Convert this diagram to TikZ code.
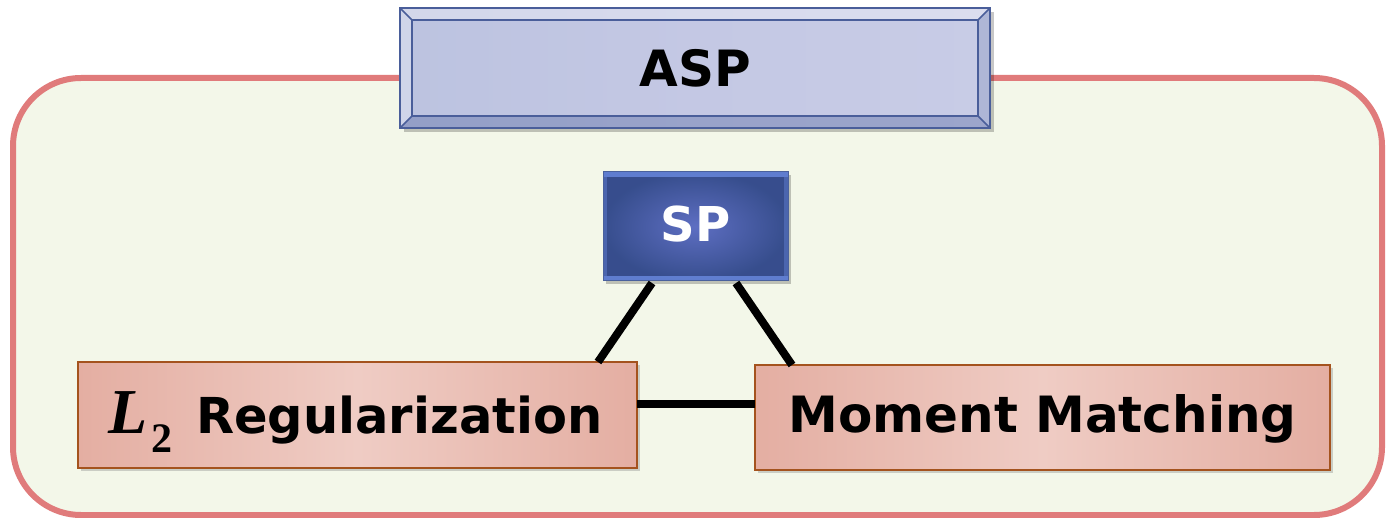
\documentclass[tikz,border=0pt]{standalone}
\usepackage{fontspec}
\setmainfont{DejaVu Sans}
\newfontfamily\serifL{Liberation Serif}
\usetikzlibrary{shadows}
\definecolor{outerline}{HTML}{E07B7B}
\definecolor{outerfill}{HTML}{F3F7E9}
\definecolor{aspL}{HTML}{BCC3E0}
\definecolor{aspM}{HTML}{C4C8E4}
\definecolor{aspR}{HTML}{C8CCE6}
\definecolor{aspline}{HTML}{4A5E9A}
\definecolor{spfill}{HTML}{3E58A0}
\definecolor{spline}{HTML}{6A8AE0}
\definecolor{pinkA}{HTML}{E4AEA2}
\definecolor{pinkB}{HTML}{EFCCC4}
\definecolor{pinkline}{HTML}{A4531E}
\tikzset{
  pinkbox/.style={draw=pinkline, line width=1.5pt, left color=pinkA, right color=pinkA, middle color=pinkB,
    drop shadow={shadow xshift=3pt, shadow yshift=-3pt, opacity=0.35}},
  conn/.style={line width=8pt, black},
  lbl/.style={font=\fontsize{50}{60}\bfseries\selectfont, text=black, inner sep=0pt},
}
\begin{document}
\begin{tikzpicture}[x=1pt,y=-1pt]
\useasboundingbox (0,0) rectangle (1386,518);
% outer frame
\draw[outerline, fill=outerfill, line width=6pt, rounded corners=68pt] (13,78) rectangle (1382,515);
% ASP box
\fill[black, opacity=0.22] (404,12) rectangle (994,132);
\fill[left color=aspL, right color=aspR, middle color=aspM] (400,8) rectangle (990,128);
\fill[white, opacity=0.35] (400,8) -- (990,8) -- (978,20) -- (412,20) -- cycle;
\fill[white, opacity=0.3] (400,8) -- (412,20) -- (412,116) -- (400,128) -- cycle;
\fill[aspline, opacity=0.35] (400,128) -- (412,116) -- (978,116) -- (990,128) -- cycle;
\fill[aspline, opacity=0.2] (990,8) -- (978,20) -- (978,116) -- (990,128) -- cycle;
\draw[aspline, line width=1.5pt] (412,20) rectangle (978,116);
\draw[aspline, line width=1.5pt] (400,8) -- (412,20) (990,8) -- (978,20) (400,128) -- (412,116) (990,128) -- (978,116);
\node[draw=aspline, line width=2pt, minimum width=590pt, minimum height=120pt, lbl] (asp) at (695,68) {ASP};
% SP box
\fill[black, opacity=0.22] (606,175) rectangle (791,284);
\node[inner color=spfill!75!white!85!blue, outer color=spfill!88!black, minimum width=185pt, minimum height=109pt, inner sep=0pt] (spbg) at (695.5,226.5) {};
\fill[spline, opacity=0.8] (603,172) rectangle (788,177);
\fill[spline, opacity=0.8] (603,276) rectangle (788,281);
\fill[spline, opacity=0.4] (603,177) rectangle (607,276);
\fill[spline, opacity=0.4] (784,177) rectangle (788,276);
\draw[spline!70!black, line width=1pt] (603,172) rectangle (788,281);
\node[inner sep=0pt, font=\fontsize{48}{58}\bfseries\selectfont, text=white] (sp) at (695.5,224) {SP};
% lower boxes
\node[pinkbox, minimum width=559pt, minimum height=106pt, inner sep=0pt] (l2) at (357.5,415) {};
\node[inner sep=0pt, anchor=base west, font={\serifL\bfseries\itshape\fontsize{64}{64}\selectfont}] (l2L) at (108,433) {L};
\node[inner sep=0pt, anchor=base west, font={\serifL\bfseries\fontsize{42}{44}\selectfont}] (l2sub) at (151,452) {2};
\node[lbl, anchor=base west, font=\fontsize{49.5}{60}\bfseries\selectfont] (l2t) at (196,433) {Regularization};
\node[pinkbox, minimum width=575pt, minimum height=105pt, inner sep=0pt] (mm) at (1042.5,417.5) {};
\node[lbl, anchor=base] (mmt) at (1042.5,432) {Moment Matching};
% connectors
\coordinate (spbl) at (652,283);
\coordinate (spbr) at (736,283);
\coordinate (l2top) at (598,362);
\coordinate (mmtop) at (792,365);
\coordinate (l2r) at (637,404);
\coordinate (mml) at (755,404);
\draw[conn] (spbl) -- (l2top);
\draw[conn] (spbr) -- (mmtop);
\draw[conn] (l2r) -- (mml);
\end{tikzpicture}
\end{document}
